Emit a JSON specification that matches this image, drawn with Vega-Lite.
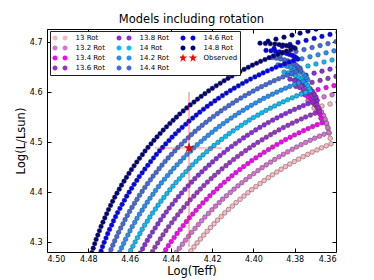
{"$schema":"https://vega.github.io/schema/vega-lite/v6.json","width":289,"height":223,"autosize":"none","padding":{"left":47,"top":29,"right":38,"bottom":28},"background":"white",
"title":{"text":"Models including rotation","font":"DejaVu Sans","fontSize":11.5,"fontWeight":"normal","color":"black","offset":3},
"config":{"view":{"stroke":"black","strokeWidth":1},"axis":{"grid":false,"domain":false,"labelFont":"DejaVu Sans","labelFontSize":8,"labelColor":"black","tickColor":"black","tickSize":-4,"titleFont":"DejaVu Sans","titleFontSize":11.5,"titleFontWeight":"normal","titleColor":"black"}},
"datasets":{"obs":[{"s":"Observed","x":4.4312,"y":4.488,"xlo":4.4477,"xhi":4.4152,"ylo":4.29,"yhi":4.60}],
"tracks":[
{"s":"13 Rot","x":4.3624,"y":4.4964},{"s":"13 Rot","x":4.3647,"y":4.4924},{"s":"13 Rot","x":4.3670,"y":4.4883},{"s":"13 Rot","x":4.3692,"y":4.4841},{"s":"13 Rot","x":4.3715,"y":4.4798},{"s":"13 Rot","x":4.3737,"y":4.4752},{"s":"13 Rot","x":4.3759,"y":4.4706},{"s":"13 Rot","x":4.3781,"y":4.4658},{"s":"13 Rot","x":4.3802,"y":4.4609},{"s":"13 Rot","x":4.3824,"y":4.4559},{"s":"13 Rot","x":4.3845,"y":4.4507},{"s":"13 Rot","x":4.3866,"y":4.4454},{"s":"13 Rot","x":4.3887,"y":4.4400},{"s":"13 Rot","x":4.3908,"y":4.4344},{"s":"13 Rot","x":4.3928,"y":4.4287},{"s":"13 Rot","x":4.3948,"y":4.4229},{"s":"13 Rot","x":4.3968,"y":4.4169},{"s":"13 Rot","x":4.3988,"y":4.4109},{"s":"13 Rot","x":4.4008,"y":4.4047},{"s":"13 Rot","x":4.4027,"y":4.3984},{"s":"13 Rot","x":4.4046,"y":4.3919},{"s":"13 Rot","x":4.4065,"y":4.3854},{"s":"13 Rot","x":4.4084,"y":4.3787},{"s":"13 Rot","x":4.4102,"y":4.3719},{"s":"13 Rot","x":4.4121,"y":4.3651},{"s":"13 Rot","x":4.4139,"y":4.3581},{"s":"13 Rot","x":4.4156,"y":4.3509},{"s":"13 Rot","x":4.4174,"y":4.3437},{"s":"13 Rot","x":4.4191,"y":4.3364},{"s":"13 Rot","x":4.4208,"y":4.3289},{"s":"13 Rot","x":4.4224,"y":4.3214},{"s":"13 Rot","x":4.4241,"y":4.3138},{"s":"13 Rot","x":4.4257,"y":4.3060},{"s":"13 Rot","x":4.4273,"y":4.2982},{"s":"13 Rot","x":4.4288,"y":4.2903},{"s":"13 Rot","x":4.4303,"y":4.2822},{"s":"13 Rot","x":4.4318,"y":4.2741},
{"s":"13 Rot","x":4.3628,"y":4.5074},{"s":"13 Rot","x":4.3633,"y":4.5176},{"s":"13 Rot","x":4.3638,"y":4.5269},{"s":"13 Rot","x":4.3645,"y":4.5353},{"s":"13 Rot","x":4.3653,"y":4.5429},{"s":"13 Rot","x":4.3662,"y":4.5496},{"s":"13 Rot","x":4.3671,"y":4.5555},{"s":"13 Rot","x":4.3682,"y":4.5605},{"s":"13 Rot","x":4.3694,"y":4.5647},{"s":"13 Rot","x":4.3706,"y":4.568},{"s":"13 Rot","x":4.3668,"y":4.572},{"s":"13 Rot","x":4.3629,"y":4.576},{"s":"13 Rot","x":4.3590,"y":4.580},
{"s":"13.2 Rot","x":4.3635,"y":4.5193},{"s":"13.2 Rot","x":4.3658,"y":4.5155},{"s":"13.2 Rot","x":4.3680,"y":4.5116},{"s":"13.2 Rot","x":4.3703,"y":4.5076},{"s":"13.2 Rot","x":4.3725,"y":4.5034},{"s":"13.2 Rot","x":4.3747,"y":4.4991},{"s":"13.2 Rot","x":4.3769,"y":4.4946},{"s":"13.2 Rot","x":4.3791,"y":4.4900},{"s":"13.2 Rot","x":4.3812,"y":4.4853},{"s":"13.2 Rot","x":4.3834,"y":4.4804},{"s":"13.2 Rot","x":4.3855,"y":4.4754},{"s":"13.2 Rot","x":4.3876,"y":4.4703},{"s":"13.2 Rot","x":4.3897,"y":4.4651},{"s":"13.2 Rot","x":4.3917,"y":4.4597},{"s":"13.2 Rot","x":4.3938,"y":4.4542},{"s":"13.2 Rot","x":4.3958,"y":4.4486},{"s":"13.2 Rot","x":4.3978,"y":4.4428},{"s":"13.2 Rot","x":4.3998,"y":4.4369},{"s":"13.2 Rot","x":4.4018,"y":4.4309},{"s":"13.2 Rot","x":4.4037,"y":4.4248},{"s":"13.2 Rot","x":4.4056,"y":4.4185},{"s":"13.2 Rot","x":4.4075,"y":4.4122},{"s":"13.2 Rot","x":4.4094,"y":4.4057},{"s":"13.2 Rot","x":4.4112,"y":4.3991},{"s":"13.2 Rot","x":4.4131,"y":4.3924},{"s":"13.2 Rot","x":4.4149,"y":4.3856},{"s":"13.2 Rot","x":4.4166,"y":4.3787},{"s":"13.2 Rot","x":4.4184,"y":4.3716},{"s":"13.2 Rot","x":4.4201,"y":4.3645},{"s":"13.2 Rot","x":4.4218,"y":4.3572},{"s":"13.2 Rot","x":4.4235,"y":4.3499},{"s":"13.2 Rot","x":4.4251,"y":4.3424},{"s":"13.2 Rot","x":4.4267,"y":4.3348},{"s":"13.2 Rot","x":4.4283,"y":4.3272},{"s":"13.2 Rot","x":4.4299,"y":4.3194},{"s":"13.2 Rot","x":4.4314,"y":4.3116},{"s":"13.2 Rot","x":4.4329,"y":4.3036},{"s":"13.2 Rot","x":4.4344,"y":4.2956},{"s":"13.2 Rot","x":4.4359,"y":4.2875},{"s":"13.2 Rot","x":4.4373,"y":4.2792},{"s":"13.2 Rot","x":4.4387,"y":4.2709},
{"s":"13.2 Rot","x":4.3640,"y":4.5289},{"s":"13.2 Rot","x":4.3646,"y":4.5379},{"s":"13.2 Rot","x":4.3653,"y":4.5461},{"s":"13.2 Rot","x":4.3661,"y":4.5536},{"s":"13.2 Rot","x":4.3670,"y":4.5603},{"s":"13.2 Rot","x":4.3681,"y":4.5662},{"s":"13.2 Rot","x":4.3693,"y":4.5714},{"s":"13.2 Rot","x":4.3706,"y":4.5758},{"s":"13.2 Rot","x":4.3720,"y":4.5795},{"s":"13.2 Rot","x":4.3736,"y":4.5824},{"s":"13.2 Rot","x":4.3697,"y":4.5864},{"s":"13.2 Rot","x":4.3658,"y":4.5904},{"s":"13.2 Rot","x":4.3619,"y":4.5944},{"s":"13.2 Rot","x":4.3580,"y":4.5984},
{"s":"13.4 Rot","x":4.3668,"y":4.5384},{"s":"13.4 Rot","x":4.3691,"y":4.5347},{"s":"13.4 Rot","x":4.3713,"y":4.5308},{"s":"13.4 Rot","x":4.3735,"y":4.5268},{"s":"13.4 Rot","x":4.3757,"y":4.5227},{"s":"13.4 Rot","x":4.3779,"y":4.5184},{"s":"13.4 Rot","x":4.3801,"y":4.5140},{"s":"13.4 Rot","x":4.3822,"y":4.5094},{"s":"13.4 Rot","x":4.3844,"y":4.5048},{"s":"13.4 Rot","x":4.3865,"y":4.5000},{"s":"13.4 Rot","x":4.3886,"y":4.4950},{"s":"13.4 Rot","x":4.3907,"y":4.4899},{"s":"13.4 Rot","x":4.3927,"y":4.4848},{"s":"13.4 Rot","x":4.3948,"y":4.4794},{"s":"13.4 Rot","x":4.3968,"y":4.4740},{"s":"13.4 Rot","x":4.3988,"y":4.4684},{"s":"13.4 Rot","x":4.4008,"y":4.4627},{"s":"13.4 Rot","x":4.4027,"y":4.4569},{"s":"13.4 Rot","x":4.4047,"y":4.4509},{"s":"13.4 Rot","x":4.4066,"y":4.4449},{"s":"13.4 Rot","x":4.4085,"y":4.4387},{"s":"13.4 Rot","x":4.4104,"y":4.4324},{"s":"13.4 Rot","x":4.4122,"y":4.4260},{"s":"13.4 Rot","x":4.4141,"y":4.4195},{"s":"13.4 Rot","x":4.4159,"y":4.4129},{"s":"13.4 Rot","x":4.4176,"y":4.4061},{"s":"13.4 Rot","x":4.4194,"y":4.3993},{"s":"13.4 Rot","x":4.4211,"y":4.3923},{"s":"13.4 Rot","x":4.4228,"y":4.3852},{"s":"13.4 Rot","x":4.4245,"y":4.3781},{"s":"13.4 Rot","x":4.4262,"y":4.3708},{"s":"13.4 Rot","x":4.4278,"y":4.3634},{"s":"13.4 Rot","x":4.4294,"y":4.3559},{"s":"13.4 Rot","x":4.4310,"y":4.3483},{"s":"13.4 Rot","x":4.4325,"y":4.3407},{"s":"13.4 Rot","x":4.4340,"y":4.3329},{"s":"13.4 Rot","x":4.4355,"y":4.3250},{"s":"13.4 Rot","x":4.4370,"y":4.3171},{"s":"13.4 Rot","x":4.4384,"y":4.3090},{"s":"13.4 Rot","x":4.4398,"y":4.3009},{"s":"13.4 Rot","x":4.4412,"y":4.2927},{"s":"13.4 Rot","x":4.4425,"y":4.2844},{"s":"13.4 Rot","x":4.4438,"y":4.2760},
{"s":"13.4 Rot","x":4.3673,"y":4.5474},{"s":"13.4 Rot","x":4.3678,"y":4.5557},{"s":"13.4 Rot","x":4.3685,"y":4.5633},{"s":"13.4 Rot","x":4.3693,"y":4.5702},{"s":"13.4 Rot","x":4.3702,"y":4.5764},{"s":"13.4 Rot","x":4.3712,"y":4.5818},{"s":"13.4 Rot","x":4.3723,"y":4.5867},{"s":"13.4 Rot","x":4.3736,"y":4.5907},{"s":"13.4 Rot","x":4.3750,"y":4.5941},{"s":"13.4 Rot","x":4.3765,"y":4.5968},{"s":"13.4 Rot","x":4.3726,"y":4.6008},{"s":"13.4 Rot","x":4.3687,"y":4.6048},{"s":"13.4 Rot","x":4.3648,"y":4.6088},{"s":"13.4 Rot","x":4.3610,"y":4.6128},
{"s":"13.6 Rot","x":4.3680,"y":4.5610},{"s":"13.6 Rot","x":4.3702,"y":4.5575},{"s":"13.6 Rot","x":4.3724,"y":4.5538},{"s":"13.6 Rot","x":4.3747,"y":4.5500},{"s":"13.6 Rot","x":4.3768,"y":4.5460},{"s":"13.6 Rot","x":4.3790,"y":4.5419},{"s":"13.6 Rot","x":4.3812,"y":4.5377},{"s":"13.6 Rot","x":4.3833,"y":4.5333},{"s":"13.6 Rot","x":4.3855,"y":4.5288},{"s":"13.6 Rot","x":4.3876,"y":4.5242},{"s":"13.6 Rot","x":4.3897,"y":4.5194},{"s":"13.6 Rot","x":4.3917,"y":4.5146},{"s":"13.6 Rot","x":4.3938,"y":4.5095},{"s":"13.6 Rot","x":4.3958,"y":4.5044},{"s":"13.6 Rot","x":4.3979,"y":4.4991},{"s":"13.6 Rot","x":4.3999,"y":4.4937},{"s":"13.6 Rot","x":4.4019,"y":4.4882},{"s":"13.6 Rot","x":4.4038,"y":4.4826},{"s":"13.6 Rot","x":4.4058,"y":4.4769},{"s":"13.6 Rot","x":4.4077,"y":4.4710},{"s":"13.6 Rot","x":4.4096,"y":4.4650},{"s":"13.6 Rot","x":4.4115,"y":4.4589},{"s":"13.6 Rot","x":4.4133,"y":4.4526},{"s":"13.6 Rot","x":4.4152,"y":4.4463},{"s":"13.6 Rot","x":4.4170,"y":4.4398},{"s":"13.6 Rot","x":4.4188,"y":4.4333},{"s":"13.6 Rot","x":4.4205,"y":4.4266},{"s":"13.6 Rot","x":4.4223,"y":4.4198},{"s":"13.6 Rot","x":4.4240,"y":4.4129},{"s":"13.6 Rot","x":4.4257,"y":4.4059},{"s":"13.6 Rot","x":4.4273,"y":4.3988},{"s":"13.6 Rot","x":4.4289,"y":4.3916},{"s":"13.6 Rot","x":4.4306,"y":4.3843},{"s":"13.6 Rot","x":4.4321,"y":4.3769},{"s":"13.6 Rot","x":4.4337,"y":4.3694},{"s":"13.6 Rot","x":4.4352,"y":4.3618},{"s":"13.6 Rot","x":4.4367,"y":4.3541},{"s":"13.6 Rot","x":4.4382,"y":4.3464},{"s":"13.6 Rot","x":4.4396,"y":4.3385},{"s":"13.6 Rot","x":4.4411,"y":4.3305},{"s":"13.6 Rot","x":4.4424,"y":4.3225},{"s":"13.6 Rot","x":4.4438,"y":4.3144},{"s":"13.6 Rot","x":4.4451,"y":4.3062},{"s":"13.6 Rot","x":4.4464,"y":4.2979},{"s":"13.6 Rot","x":4.4477,"y":4.2895},{"s":"13.6 Rot","x":4.4489,"y":4.2810},{"s":"13.6 Rot","x":4.4501,"y":4.2725},
{"s":"13.6 Rot","x":4.3686,"y":4.5687},{"s":"13.6 Rot","x":4.3692,"y":4.5759},{"s":"13.6 Rot","x":4.3700,"y":4.5824},{"s":"13.6 Rot","x":4.3709,"y":4.5883},{"s":"13.6 Rot","x":4.3720,"y":4.5936},{"s":"13.6 Rot","x":4.3732,"y":4.5984},{"s":"13.6 Rot","x":4.3745,"y":4.6024},{"s":"13.6 Rot","x":4.3760,"y":4.6060},{"s":"13.6 Rot","x":4.3776,"y":4.6089},{"s":"13.6 Rot","x":4.3794,"y":4.6112},{"s":"13.6 Rot","x":4.3755,"y":4.6152},{"s":"13.6 Rot","x":4.3716,"y":4.6192},{"s":"13.6 Rot","x":4.3677,"y":4.6232},{"s":"13.6 Rot","x":4.3639,"y":4.6272},{"s":"13.6 Rot","x":4.3600,"y":4.6312},
{"s":"13.8 Rot","x":4.3691,"y":4.5834},{"s":"13.8 Rot","x":4.3713,"y":4.5801},{"s":"13.8 Rot","x":4.3736,"y":4.5766},{"s":"13.8 Rot","x":4.3758,"y":4.5729},{"s":"13.8 Rot","x":4.3779,"y":4.5691},{"s":"13.8 Rot","x":4.3801,"y":4.5652},{"s":"13.8 Rot","x":4.3823,"y":4.5612},{"s":"13.8 Rot","x":4.3844,"y":4.5570},{"s":"13.8 Rot","x":4.3865,"y":4.5527},{"s":"13.8 Rot","x":4.3886,"y":4.5482},{"s":"13.8 Rot","x":4.3907,"y":4.5437},{"s":"13.8 Rot","x":4.3928,"y":4.5390},{"s":"13.8 Rot","x":4.3948,"y":4.5341},{"s":"13.8 Rot","x":4.3969,"y":4.5292},{"s":"13.8 Rot","x":4.3989,"y":4.5241},{"s":"13.8 Rot","x":4.4009,"y":4.5189},{"s":"13.8 Rot","x":4.4029,"y":4.5135},{"s":"13.8 Rot","x":4.4048,"y":4.5081},{"s":"13.8 Rot","x":4.4068,"y":4.5025},{"s":"13.8 Rot","x":4.4087,"y":4.4968},{"s":"13.8 Rot","x":4.4106,"y":4.4910},{"s":"13.8 Rot","x":4.4125,"y":4.4851},{"s":"13.8 Rot","x":4.4143,"y":4.4790},{"s":"13.8 Rot","x":4.4162,"y":4.4729},{"s":"13.8 Rot","x":4.4180,"y":4.4666},{"s":"13.8 Rot","x":4.4198,"y":4.4602},{"s":"13.8 Rot","x":4.4215,"y":4.4537},{"s":"13.8 Rot","x":4.4233,"y":4.4471},{"s":"13.8 Rot","x":4.4250,"y":4.4404},{"s":"13.8 Rot","x":4.4267,"y":4.4336},{"s":"13.8 Rot","x":4.4284,"y":4.4267},{"s":"13.8 Rot","x":4.4300,"y":4.4197},{"s":"13.8 Rot","x":4.4316,"y":4.4125},{"s":"13.8 Rot","x":4.4332,"y":4.4053},{"s":"13.8 Rot","x":4.4348,"y":4.3980},{"s":"13.8 Rot","x":4.4363,"y":4.3906},{"s":"13.8 Rot","x":4.4378,"y":4.3831},{"s":"13.8 Rot","x":4.4393,"y":4.3755},{"s":"13.8 Rot","x":4.4408,"y":4.3678},{"s":"13.8 Rot","x":4.4422,"y":4.3600},{"s":"13.8 Rot","x":4.4436,"y":4.3521},{"s":"13.8 Rot","x":4.4450,"y":4.3442},{"s":"13.8 Rot","x":4.4463,"y":4.3361},{"s":"13.8 Rot","x":4.4476,"y":4.3280},{"s":"13.8 Rot","x":4.4489,"y":4.3198},{"s":"13.8 Rot","x":4.4502,"y":4.3115},{"s":"13.8 Rot","x":4.4514,"y":4.3032},{"s":"13.8 Rot","x":4.4526,"y":4.2947},{"s":"13.8 Rot","x":4.4537,"y":4.2862},{"s":"13.8 Rot","x":4.4549,"y":4.2776},{"s":"13.8 Rot","x":4.4560,"y":4.2690},
{"s":"13.8 Rot","x":4.3697,"y":4.5899},{"s":"13.8 Rot","x":4.3705,"y":4.5959},{"s":"13.8 Rot","x":4.3714,"y":4.6014},{"s":"13.8 Rot","x":4.3725,"y":4.6064},{"s":"13.8 Rot","x":4.3737,"y":4.6108},{"s":"13.8 Rot","x":4.3751,"y":4.6148},{"s":"13.8 Rot","x":4.3767,"y":4.6182},{"s":"13.8 Rot","x":4.3784,"y":4.6212},{"s":"13.8 Rot","x":4.3802,"y":4.6237},{"s":"13.8 Rot","x":4.3823,"y":4.6256},{"s":"13.8 Rot","x":4.3784,"y":4.6296},{"s":"13.8 Rot","x":4.3745,"y":4.6336},{"s":"13.8 Rot","x":4.3706,"y":4.6376},{"s":"13.8 Rot","x":4.3668,"y":4.6416},{"s":"13.8 Rot","x":4.3629,"y":4.6456},{"s":"13.8 Rot","x":4.3590,"y":4.6496},
{"s":"14 Rot","x":4.3725,"y":4.6025},{"s":"14 Rot","x":4.3747,"y":4.5991},{"s":"14 Rot","x":4.3769,"y":4.5957},{"s":"14 Rot","x":4.3791,"y":4.5921},{"s":"14 Rot","x":4.3812,"y":4.5883},{"s":"14 Rot","x":4.3834,"y":4.5845},{"s":"14 Rot","x":4.3855,"y":4.5804},{"s":"14 Rot","x":4.3876,"y":4.5763},{"s":"14 Rot","x":4.3897,"y":4.5720},{"s":"14 Rot","x":4.3918,"y":4.5676},{"s":"14 Rot","x":4.3939,"y":4.5631},{"s":"14 Rot","x":4.3959,"y":4.5585},{"s":"14 Rot","x":4.3979,"y":4.5537},{"s":"14 Rot","x":4.4000,"y":4.5488},{"s":"14 Rot","x":4.4020,"y":4.5438},{"s":"14 Rot","x":4.4039,"y":4.5386},{"s":"14 Rot","x":4.4059,"y":4.5333},{"s":"14 Rot","x":4.4078,"y":4.5280},{"s":"14 Rot","x":4.4098,"y":4.5224},{"s":"14 Rot","x":4.4117,"y":4.5168},{"s":"14 Rot","x":4.4135,"y":4.5111},{"s":"14 Rot","x":4.4154,"y":4.5052},{"s":"14 Rot","x":4.4172,"y":4.4992},{"s":"14 Rot","x":4.4191,"y":4.4931},{"s":"14 Rot","x":4.4208,"y":4.4869},{"s":"14 Rot","x":4.4226,"y":4.4806},{"s":"14 Rot","x":4.4244,"y":4.4742},{"s":"14 Rot","x":4.4261,"y":4.4677},{"s":"14 Rot","x":4.4278,"y":4.4610},{"s":"14 Rot","x":4.4295,"y":4.4543},{"s":"14 Rot","x":4.4311,"y":4.4474},{"s":"14 Rot","x":4.4327,"y":4.4405},{"s":"14 Rot","x":4.4343,"y":4.4335},{"s":"14 Rot","x":4.4359,"y":4.4263},{"s":"14 Rot","x":4.4375,"y":4.4191},{"s":"14 Rot","x":4.4390,"y":4.4117},{"s":"14 Rot","x":4.4405,"y":4.4043},{"s":"14 Rot","x":4.4419,"y":4.3968},{"s":"14 Rot","x":4.4434,"y":4.3892},{"s":"14 Rot","x":4.4448,"y":4.3815},{"s":"14 Rot","x":4.4462,"y":4.3737},{"s":"14 Rot","x":4.4475,"y":4.3658},{"s":"14 Rot","x":4.4489,"y":4.3579},{"s":"14 Rot","x":4.4502,"y":4.3499},{"s":"14 Rot","x":4.4514,"y":4.3417},{"s":"14 Rot","x":4.4527,"y":4.3336},{"s":"14 Rot","x":4.4539,"y":4.3253},{"s":"14 Rot","x":4.4550,"y":4.3169},{"s":"14 Rot","x":4.4562,"y":4.3085},{"s":"14 Rot","x":4.4573,"y":4.3000},{"s":"14 Rot","x":4.4584,"y":4.2915},{"s":"14 Rot","x":4.4595,"y":4.2829},{"s":"14 Rot","x":4.4605,"y":4.2742},
{"s":"14 Rot","x":4.3731,"y":4.6082},{"s":"14 Rot","x":4.3738,"y":4.6135},{"s":"14 Rot","x":4.3747,"y":4.6184},{"s":"14 Rot","x":4.3758,"y":4.6229},{"s":"14 Rot","x":4.3770,"y":4.6268},{"s":"14 Rot","x":4.3783,"y":4.6304},{"s":"14 Rot","x":4.3798,"y":4.6335},{"s":"14 Rot","x":4.3814,"y":4.6361},{"s":"14 Rot","x":4.3832,"y":4.6383},{"s":"14 Rot","x":4.3852,"y":4.640},{"s":"14 Rot","x":4.3813,"y":4.644},{"s":"14 Rot","x":4.3774,"y":4.648},{"s":"14 Rot","x":4.3736,"y":4.652},{"s":"14 Rot","x":4.3697,"y":4.656},{"s":"14 Rot","x":4.3658,"y":4.660},{"s":"14 Rot","x":4.3619,"y":4.664},
{"s":"14.2 Rot","x":4.3737,"y":4.6247},{"s":"14.2 Rot","x":4.3759,"y":4.6215},{"s":"14.2 Rot","x":4.3781,"y":4.6182},{"s":"14.2 Rot","x":4.3802,"y":4.6148},{"s":"14.2 Rot","x":4.3824,"y":4.6112},{"s":"14.2 Rot","x":4.3845,"y":4.6075},{"s":"14.2 Rot","x":4.3866,"y":4.6037},{"s":"14.2 Rot","x":4.3887,"y":4.5997},{"s":"14.2 Rot","x":4.3908,"y":4.5956},{"s":"14.2 Rot","x":4.3929,"y":4.5914},{"s":"14.2 Rot","x":4.3950,"y":4.5871},{"s":"14.2 Rot","x":4.3970,"y":4.5826},{"s":"14.2 Rot","x":4.3990,"y":4.5780},{"s":"14.2 Rot","x":4.4010,"y":4.5733},{"s":"14.2 Rot","x":4.4030,"y":4.5684},{"s":"14.2 Rot","x":4.4050,"y":4.5634},{"s":"14.2 Rot","x":4.4070,"y":4.5584},{"s":"14.2 Rot","x":4.4089,"y":4.5531},{"s":"14.2 Rot","x":4.4108,"y":4.5478},{"s":"14.2 Rot","x":4.4127,"y":4.5424},{"s":"14.2 Rot","x":4.4146,"y":4.5368},{"s":"14.2 Rot","x":4.4165,"y":4.5311},{"s":"14.2 Rot","x":4.4183,"y":4.5253},{"s":"14.2 Rot","x":4.4201,"y":4.5194},{"s":"14.2 Rot","x":4.4219,"y":4.5134},{"s":"14.2 Rot","x":4.4237,"y":4.5072},{"s":"14.2 Rot","x":4.4254,"y":4.5010},{"s":"14.2 Rot","x":4.4272,"y":4.4946},{"s":"14.2 Rot","x":4.4289,"y":4.4882},{"s":"14.2 Rot","x":4.4305,"y":4.4816},{"s":"14.2 Rot","x":4.4322,"y":4.4750},{"s":"14.2 Rot","x":4.4338,"y":4.4682},{"s":"14.2 Rot","x":4.4354,"y":4.4613},{"s":"14.2 Rot","x":4.4370,"y":4.4544},{"s":"14.2 Rot","x":4.4386,"y":4.4473},{"s":"14.2 Rot","x":4.4401,"y":4.4401},{"s":"14.2 Rot","x":4.4416,"y":4.4329},{"s":"14.2 Rot","x":4.4431,"y":4.4255},{"s":"14.2 Rot","x":4.4446,"y":4.4181},{"s":"14.2 Rot","x":4.4460,"y":4.4106},{"s":"14.2 Rot","x":4.4474,"y":4.4030},{"s":"14.2 Rot","x":4.4487,"y":4.3953},{"s":"14.2 Rot","x":4.4501,"y":4.3875},{"s":"14.2 Rot","x":4.4514,"y":4.3796},{"s":"14.2 Rot","x":4.4527,"y":4.3717},{"s":"14.2 Rot","x":4.4539,"y":4.3637},{"s":"14.2 Rot","x":4.4552,"y":4.3556},{"s":"14.2 Rot","x":4.4564,"y":4.3474},{"s":"14.2 Rot","x":4.4575,"y":4.3392},{"s":"14.2 Rot","x":4.4587,"y":4.3308},{"s":"14.2 Rot","x":4.4598,"y":4.3224},{"s":"14.2 Rot","x":4.4608,"y":4.3140},{"s":"14.2 Rot","x":4.4619,"y":4.3055},{"s":"14.2 Rot","x":4.4629,"y":4.2969},{"s":"14.2 Rot","x":4.4639,"y":4.2882},{"s":"14.2 Rot","x":4.4648,"y":4.2795},{"s":"14.2 Rot","x":4.4657,"y":4.2708},
{"s":"14.2 Rot","x":4.3744,"y":4.6292},{"s":"14.2 Rot","x":4.3752,"y":4.6334},{"s":"14.2 Rot","x":4.3762,"y":4.6373},{"s":"14.2 Rot","x":4.3774,"y":4.6408},{"s":"14.2 Rot","x":4.3788,"y":4.6440},{"s":"14.2 Rot","x":4.3803,"y":4.6468},{"s":"14.2 Rot","x":4.3820,"y":4.6492},{"s":"14.2 Rot","x":4.3838,"y":4.6513},{"s":"14.2 Rot","x":4.3859,"y":4.6530},{"s":"14.2 Rot","x":4.3881,"y":4.6544},{"s":"14.2 Rot","x":4.3842,"y":4.6584},{"s":"14.2 Rot","x":4.3803,"y":4.6624},{"s":"14.2 Rot","x":4.3765,"y":4.6664},{"s":"14.2 Rot","x":4.3726,"y":4.6704},{"s":"14.2 Rot","x":4.3687,"y":4.6744},{"s":"14.2 Rot","x":4.3648,"y":4.6784},{"s":"14.2 Rot","x":4.3610,"y":4.6824},
{"s":"14.4 Rot","x":4.3771,"y":4.6434},{"s":"14.4 Rot","x":4.3793,"y":4.6403},{"s":"14.4 Rot","x":4.3814,"y":4.6371},{"s":"14.4 Rot","x":4.3836,"y":4.6337},{"s":"14.4 Rot","x":4.3857,"y":4.6301},{"s":"14.4 Rot","x":4.3878,"y":4.6265},{"s":"14.4 Rot","x":4.3899,"y":4.6227},{"s":"14.4 Rot","x":4.3920,"y":4.6188},{"s":"14.4 Rot","x":4.3940,"y":4.6147},{"s":"14.4 Rot","x":4.3961,"y":4.6106},{"s":"14.4 Rot","x":4.3981,"y":4.6063},{"s":"14.4 Rot","x":4.4001,"y":4.6019},{"s":"14.4 Rot","x":4.4021,"y":4.5973},{"s":"14.4 Rot","x":4.4041,"y":4.5926},{"s":"14.4 Rot","x":4.4061,"y":4.5878},{"s":"14.4 Rot","x":4.4081,"y":4.5829},{"s":"14.4 Rot","x":4.4100,"y":4.5779},{"s":"14.4 Rot","x":4.4119,"y":4.5727},{"s":"14.4 Rot","x":4.4138,"y":4.5675},{"s":"14.4 Rot","x":4.4157,"y":4.5621},{"s":"14.4 Rot","x":4.4175,"y":4.5566},{"s":"14.4 Rot","x":4.4194,"y":4.5510},{"s":"14.4 Rot","x":4.4212,"y":4.5452},{"s":"14.4 Rot","x":4.4230,"y":4.5394},{"s":"14.4 Rot","x":4.4248,"y":4.5334},{"s":"14.4 Rot","x":4.4265,"y":4.5274},{"s":"14.4 Rot","x":4.4283,"y":4.5212},{"s":"14.4 Rot","x":4.4300,"y":4.5149},{"s":"14.4 Rot","x":4.4316,"y":4.5085},{"s":"14.4 Rot","x":4.4333,"y":4.5020},{"s":"14.4 Rot","x":4.4349,"y":4.4955},{"s":"14.4 Rot","x":4.4366,"y":4.4888},{"s":"14.4 Rot","x":4.4381,"y":4.4820},{"s":"14.4 Rot","x":4.4397,"y":4.4751},{"s":"14.4 Rot","x":4.4413,"y":4.4681},{"s":"14.4 Rot","x":4.4428,"y":4.4610},{"s":"14.4 Rot","x":4.4443,"y":4.4538},{"s":"14.4 Rot","x":4.4457,"y":4.4466},{"s":"14.4 Rot","x":4.4471,"y":4.4392},{"s":"14.4 Rot","x":4.4486,"y":4.4318},{"s":"14.4 Rot","x":4.4499,"y":4.4243},{"s":"14.4 Rot","x":4.4513,"y":4.4167},{"s":"14.4 Rot","x":4.4526,"y":4.4090},{"s":"14.4 Rot","x":4.4539,"y":4.4012},{"s":"14.4 Rot","x":4.4552,"y":4.3934},{"s":"14.4 Rot","x":4.4564,"y":4.3854},{"s":"14.4 Rot","x":4.4576,"y":4.3774},{"s":"14.4 Rot","x":4.4588,"y":4.3693},{"s":"14.4 Rot","x":4.4600,"y":4.3612},{"s":"14.4 Rot","x":4.4611,"y":4.3529},{"s":"14.4 Rot","x":4.4622,"y":4.3447},{"s":"14.4 Rot","x":4.4632,"y":4.3363},{"s":"14.4 Rot","x":4.4643,"y":4.3279},{"s":"14.4 Rot","x":4.4653,"y":4.3194},{"s":"14.4 Rot","x":4.4662,"y":4.3108},{"s":"14.4 Rot","x":4.4672,"y":4.3022},{"s":"14.4 Rot","x":4.4681,"y":4.2936},{"s":"14.4 Rot","x":4.4690,"y":4.2849},{"s":"14.4 Rot","x":4.4698,"y":4.2761},
{"s":"14.4 Rot","x":4.3778,"y":4.6473},{"s":"14.4 Rot","x":4.3786,"y":4.6509},{"s":"14.4 Rot","x":4.3795,"y":4.6542},{"s":"14.4 Rot","x":4.3807,"y":4.6572},{"s":"14.4 Rot","x":4.3820,"y":4.6599},{"s":"14.4 Rot","x":4.3834,"y":4.6623},{"s":"14.4 Rot","x":4.3851,"y":4.6644},{"s":"14.4 Rot","x":4.3869,"y":4.6662},{"s":"14.4 Rot","x":4.3889,"y":4.6676},{"s":"14.4 Rot","x":4.3910,"y":4.6688},{"s":"14.4 Rot","x":4.3871,"y":4.6728},{"s":"14.4 Rot","x":4.3832,"y":4.6768},{"s":"14.4 Rot","x":4.3794,"y":4.6808},{"s":"14.4 Rot","x":4.3755,"y":4.6848},{"s":"14.4 Rot","x":4.3716,"y":4.6888},{"s":"14.4 Rot","x":4.3677,"y":4.6928},{"s":"14.4 Rot","x":4.3639,"y":4.6968},{"s":"14.4 Rot","x":4.3600,"y":4.7008},
{"s":"14.6 Rot","x":4.3785,"y":4.6656},{"s":"14.6 Rot","x":4.3806,"y":4.6626},{"s":"14.6 Rot","x":4.3827,"y":4.6595},{"s":"14.6 Rot","x":4.3849,"y":4.6563},{"s":"14.6 Rot","x":4.3870,"y":4.6530},{"s":"14.6 Rot","x":4.3891,"y":4.6495},{"s":"14.6 Rot","x":4.3911,"y":4.6459},{"s":"14.6 Rot","x":4.3932,"y":4.6421},{"s":"14.6 Rot","x":4.3953,"y":4.6382},{"s":"14.6 Rot","x":4.3973,"y":4.6342},{"s":"14.6 Rot","x":4.3993,"y":4.6301},{"s":"14.6 Rot","x":4.4014,"y":4.6259},{"s":"14.6 Rot","x":4.4034,"y":4.6215},{"s":"14.6 Rot","x":4.4053,"y":4.6170},{"s":"14.6 Rot","x":4.4073,"y":4.6124},{"s":"14.6 Rot","x":4.4093,"y":4.6076},{"s":"14.6 Rot","x":4.4112,"y":4.6028},{"s":"14.6 Rot","x":4.4131,"y":4.5978},{"s":"14.6 Rot","x":4.4150,"y":4.5927},{"s":"14.6 Rot","x":4.4169,"y":4.5875},{"s":"14.6 Rot","x":4.4187,"y":4.5822},{"s":"14.6 Rot","x":4.4206,"y":4.5767},{"s":"14.6 Rot","x":4.4224,"y":4.5712},{"s":"14.6 Rot","x":4.4242,"y":4.5655},{"s":"14.6 Rot","x":4.4260,"y":4.5597},{"s":"14.6 Rot","x":4.4277,"y":4.5538},{"s":"14.6 Rot","x":4.4294,"y":4.5478},{"s":"14.6 Rot","x":4.4312,"y":4.5417},{"s":"14.6 Rot","x":4.4328,"y":4.5355},{"s":"14.6 Rot","x":4.4345,"y":4.5292},{"s":"14.6 Rot","x":4.4362,"y":4.5228},{"s":"14.6 Rot","x":4.4378,"y":4.5163},{"s":"14.6 Rot","x":4.4394,"y":4.5097},{"s":"14.6 Rot","x":4.4409,"y":4.5029},{"s":"14.6 Rot","x":4.4425,"y":4.4961},{"s":"14.6 Rot","x":4.4440,"y":4.4892},{"s":"14.6 Rot","x":4.4455,"y":4.4822},{"s":"14.6 Rot","x":4.4470,"y":4.4751},{"s":"14.6 Rot","x":4.4484,"y":4.4680},{"s":"14.6 Rot","x":4.4498,"y":4.4607},{"s":"14.6 Rot","x":4.4512,"y":4.4533},{"s":"14.6 Rot","x":4.4526,"y":4.4459},{"s":"14.6 Rot","x":4.4539,"y":4.4384},{"s":"14.6 Rot","x":4.4553,"y":4.4308},{"s":"14.6 Rot","x":4.4565,"y":4.4231},{"s":"14.6 Rot","x":4.4578,"y":4.4153},{"s":"14.6 Rot","x":4.4590,"y":4.4075},{"s":"14.6 Rot","x":4.4602,"y":4.3996},{"s":"14.6 Rot","x":4.4614,"y":4.3916},{"s":"14.6 Rot","x":4.4625,"y":4.3835},{"s":"14.6 Rot","x":4.4636,"y":4.3754},{"s":"14.6 Rot","x":4.4647,"y":4.3672},{"s":"14.6 Rot","x":4.4658,"y":4.3589},{"s":"14.6 Rot","x":4.4668,"y":4.3506},{"s":"14.6 Rot","x":4.4678,"y":4.3422},{"s":"14.6 Rot","x":4.4687,"y":4.3337},{"s":"14.6 Rot","x":4.4697,"y":4.3252},{"s":"14.6 Rot","x":4.4706,"y":4.3166},{"s":"14.6 Rot","x":4.4714,"y":4.3080},{"s":"14.6 Rot","x":4.4723,"y":4.2993},{"s":"14.6 Rot","x":4.4731,"y":4.2906},{"s":"14.6 Rot","x":4.4738,"y":4.2818},{"s":"14.6 Rot","x":4.4746,"y":4.2730},
{"s":"14.6 Rot","x":4.3792,"y":4.6683},{"s":"14.6 Rot","x":4.3801,"y":4.6708},{"s":"14.6 Rot","x":4.3812,"y":4.6731},{"s":"14.6 Rot","x":4.3825,"y":4.6752},{"s":"14.6 Rot","x":4.3839,"y":4.6770},{"s":"14.6 Rot","x":4.3855,"y":4.6787},{"s":"14.6 Rot","x":4.3874,"y":4.6801},{"s":"14.6 Rot","x":4.3893,"y":4.6814},{"s":"14.6 Rot","x":4.3915,"y":4.6824},{"s":"14.6 Rot","x":4.3939,"y":4.6832},{"s":"14.6 Rot","x":4.3900,"y":4.6872},{"s":"14.6 Rot","x":4.3861,"y":4.6912},{"s":"14.6 Rot","x":4.3823,"y":4.6952},{"s":"14.6 Rot","x":4.3784,"y":4.6992},{"s":"14.6 Rot","x":4.3745,"y":4.7032},{"s":"14.6 Rot","x":4.3706,"y":4.7072},{"s":"14.6 Rot","x":4.3668,"y":4.7112},{"s":"14.6 Rot","x":4.3629,"y":4.7152},{"s":"14.6 Rot","x":4.3590,"y":4.7192},
{"s":"14.8 Rot","x":4.3798,"y":4.6873},{"s":"14.8 Rot","x":4.3819,"y":4.6845},{"s":"14.8 Rot","x":4.3840,"y":4.6816},{"s":"14.8 Rot","x":4.3861,"y":4.6786},{"s":"14.8 Rot","x":4.3882,"y":4.6754},{"s":"14.8 Rot","x":4.3903,"y":4.6721},{"s":"14.8 Rot","x":4.3924,"y":4.6686},{"s":"14.8 Rot","x":4.3944,"y":4.6650},{"s":"14.8 Rot","x":4.3965,"y":4.6613},{"s":"14.8 Rot","x":4.3985,"y":4.6575},{"s":"14.8 Rot","x":4.4005,"y":4.6536},{"s":"14.8 Rot","x":4.4025,"y":4.6495},{"s":"14.8 Rot","x":4.4045,"y":4.6453},{"s":"14.8 Rot","x":4.4065,"y":4.6410},{"s":"14.8 Rot","x":4.4085,"y":4.6365},{"s":"14.8 Rot","x":4.4104,"y":4.6320},{"s":"14.8 Rot","x":4.4123,"y":4.6273},{"s":"14.8 Rot","x":4.4142,"y":4.6225},{"s":"14.8 Rot","x":4.4161,"y":4.6175},{"s":"14.8 Rot","x":4.4180,"y":4.6125},{"s":"14.8 Rot","x":4.4199,"y":4.6074},{"s":"14.8 Rot","x":4.4217,"y":4.6021},{"s":"14.8 Rot","x":4.4235,"y":4.5967},{"s":"14.8 Rot","x":4.4253,"y":4.5912},{"s":"14.8 Rot","x":4.4271,"y":4.5856},{"s":"14.8 Rot","x":4.4288,"y":4.5799},{"s":"14.8 Rot","x":4.4306,"y":4.5741},{"s":"14.8 Rot","x":4.4323,"y":4.5681},{"s":"14.8 Rot","x":4.4340,"y":4.5621},{"s":"14.8 Rot","x":4.4357,"y":4.5560},{"s":"14.8 Rot","x":4.4373,"y":4.5497},{"s":"14.8 Rot","x":4.4389,"y":4.5434},{"s":"14.8 Rot","x":4.4405,"y":4.5370},{"s":"14.8 Rot","x":4.4421,"y":4.5304},{"s":"14.8 Rot","x":4.4437,"y":4.5238},{"s":"14.8 Rot","x":4.4452,"y":4.5170},{"s":"14.8 Rot","x":4.4467,"y":4.5102},{"s":"14.8 Rot","x":4.4482,"y":4.5033},{"s":"14.8 Rot","x":4.4496,"y":4.4963},{"s":"14.8 Rot","x":4.4511,"y":4.4892},{"s":"14.8 Rot","x":4.4525,"y":4.4820},{"s":"14.8 Rot","x":4.4538,"y":4.4747},{"s":"14.8 Rot","x":4.4552,"y":4.4674},{"s":"14.8 Rot","x":4.4565,"y":4.4600},{"s":"14.8 Rot","x":4.4578,"y":4.4524},{"s":"14.8 Rot","x":4.4591,"y":4.4448},{"s":"14.8 Rot","x":4.4603,"y":4.4372},{"s":"14.8 Rot","x":4.4615,"y":4.4294},{"s":"14.8 Rot","x":4.4627,"y":4.4216},{"s":"14.8 Rot","x":4.4639,"y":4.4137},{"s":"14.8 Rot","x":4.4650,"y":4.4057},{"s":"14.8 Rot","x":4.4661,"y":4.3977},{"s":"14.8 Rot","x":4.4672,"y":4.3896},{"s":"14.8 Rot","x":4.4682,"y":4.3814},{"s":"14.8 Rot","x":4.4692,"y":4.3732},{"s":"14.8 Rot","x":4.4702,"y":4.3649},{"s":"14.8 Rot","x":4.4711,"y":4.3565},{"s":"14.8 Rot","x":4.4720,"y":4.3481},{"s":"14.8 Rot","x":4.4729,"y":4.3396},{"s":"14.8 Rot","x":4.4738,"y":4.3311},{"s":"14.8 Rot","x":4.4746,"y":4.3225},{"s":"14.8 Rot","x":4.4754,"y":4.3139},{"s":"14.8 Rot","x":4.4762,"y":4.3052},{"s":"14.8 Rot","x":4.4769,"y":4.2965},{"s":"14.8 Rot","x":4.4776,"y":4.2877},{"s":"14.8 Rot","x":4.4783,"y":4.2789},{"s":"14.8 Rot","x":4.4789,"y":4.2701},
{"s":"14.8 Rot","x":4.3806,"y":4.6888},{"s":"14.8 Rot","x":4.3816,"y":4.6903},{"s":"14.8 Rot","x":4.3828,"y":4.6916},{"s":"14.8 Rot","x":4.3842,"y":4.6929},{"s":"14.8 Rot","x":4.3858,"y":4.6940},{"s":"14.8 Rot","x":4.3876,"y":4.6949},{"s":"14.8 Rot","x":4.3896,"y":4.6958},{"s":"14.8 Rot","x":4.3918,"y":4.6965},{"s":"14.8 Rot","x":4.3942,"y":4.6971},{"s":"14.8 Rot","x":4.3968,"y":4.6976},{"s":"14.8 Rot","x":4.3929,"y":4.7016},{"s":"14.8 Rot","x":4.3891,"y":4.7056},{"s":"14.8 Rot","x":4.3852,"y":4.7096},{"s":"14.8 Rot","x":4.3813,"y":4.7136},{"s":"14.8 Rot","x":4.3774,"y":4.7176},{"s":"14.8 Rot","x":4.3736,"y":4.7216},{"s":"14.8 Rot","x":4.3697,"y":4.7256},{"s":"14.8 Rot","x":4.3658,"y":4.7296}
]},
"layer":[
{"data":{"name":"tracks"},"mark":{"type":"point","filled":true,"size":22,"stroke":"#333","strokeWidth":0.4,"opacity":1,"clip":true},
"encoding":{
"x":{"field":"x","type":"quantitative","scale":{"domain":[4.36,4.5],"reverse":true,"nice":false,"zero":false},"axis":{"values":[4.36,4.38,4.40,4.42,4.44,4.46,4.48,4.50],"format":".2f","title":"Log(Teff)","labelPadding":7,"titlePadding":2}},
"y":{"field":"y","type":"quantitative","scale":{"domain":[4.28,4.726],"nice":false,"zero":false},"axis":{"values":[4.3,4.4,4.5,4.6,4.7],"format":".1f","title":"Log(L/Lsun)","labelPadding":9,"titlePadding":3}},
"color":{"field":"s","type":"nominal","scale":{"domain":["13 Rot","13.2 Rot","13.4 Rot","13.6 Rot","13.8 Rot","14 Rot","14.2 Rot","14.4 Rot","14.6 Rot","14.8 Rot","Observed"],"range":["#ffb6c1","#da70d6","#ff00ff","#9932cc","#8a2be2","#00bfff","#1e90ff","#4169e1","#0000ff","#000080","#ff0000"]},
"legend":{"orient":"none","legendX":3,"legendY":2,"columns":3,"title":null,"labelFont":"DejaVu Sans","labelFontSize":7,"labelColor":"black","symbolSize":100,"symbolStrokeWidth":0.4,"symbolStrokeColor":"#333","symbolOpacity":1,"symbolOffset":2.5,"labelOffset":10,"rowPadding":0,"columnPadding":11,"padding":2,"clipHeight":10,"strokeColor":"#222","fillColor":"white"}}
}},
{"data":{"name":"obs"},"transform":[{"filter":"datum.s == 'none'"}],"mark":{"type":"point","filled":true,"opacity":1,"stroke":"#333","strokeWidth":0.4},
"encoding":{"x":{"field":"x","type":"quantitative","scale":{"domain":[4.36,4.5],"reverse":true,"nice":false,"zero":false},"axis":null},
"y":{"field":"y","type":"quantitative","scale":{"domain":[4.28,4.726],"nice":false,"zero":false},"axis":null},
"color":{"field":"s","type":"nominal","scale":{"domain":["13 Rot","13.2 Rot","13.4 Rot","13.6 Rot","13.8 Rot","14 Rot","14.2 Rot","14.4 Rot","14.6 Rot","14.8 Rot","Observed"],"range":["#ffb6c1","#da70d6","#ff00ff","#9932cc","#8a2be2","#00bfff","#1e90ff","#4169e1","#0000ff","#000080","#ff0000"]},
"legend":{"orient":"none","legendX":3,"legendY":2,"columns":3,"title":null,"labelFont":"DejaVu Sans","labelFontSize":7,"labelColor":"black","symbolSize":100,"symbolStrokeWidth":0.4,"symbolStrokeColor":"#333","symbolOpacity":1,"symbolOffset":2.5,"labelOffset":10,"rowPadding":0,"columnPadding":11,"padding":2,"clipHeight":10,"strokeColor":"#222","fillColor":"white"}},
"shape":{"field":"s","type":"nominal","scale":{"domain":["13 Rot","13.2 Rot","13.4 Rot","13.6 Rot","13.8 Rot","14 Rot","14.2 Rot","14.4 Rot","14.6 Rot","14.8 Rot","Observed"],"range":["M-1.5,0a0.5,0.5 0 1,0 1,0a0.5,0.5 0 1,0 -1,0ZM0.5,0a0.5,0.5 0 1,0 1,0a0.5,0.5 0 1,0 -1,0Z","M-1.5,0a0.5,0.5 0 1,0 1,0a0.5,0.5 0 1,0 -1,0ZM0.5,0a0.5,0.5 0 1,0 1,0a0.5,0.5 0 1,0 -1,0Z","M-1.5,0a0.5,0.5 0 1,0 1,0a0.5,0.5 0 1,0 -1,0ZM0.5,0a0.5,0.5 0 1,0 1,0a0.5,0.5 0 1,0 -1,0Z","M-1.5,0a0.5,0.5 0 1,0 1,0a0.5,0.5 0 1,0 -1,0ZM0.5,0a0.5,0.5 0 1,0 1,0a0.5,0.5 0 1,0 -1,0Z","M-1.5,0a0.5,0.5 0 1,0 1,0a0.5,0.5 0 1,0 -1,0ZM0.5,0a0.5,0.5 0 1,0 1,0a0.5,0.5 0 1,0 -1,0Z","M-1.5,0a0.5,0.5 0 1,0 1,0a0.5,0.5 0 1,0 -1,0ZM0.5,0a0.5,0.5 0 1,0 1,0a0.5,0.5 0 1,0 -1,0Z","M-1.5,0a0.5,0.5 0 1,0 1,0a0.5,0.5 0 1,0 -1,0ZM0.5,0a0.5,0.5 0 1,0 1,0a0.5,0.5 0 1,0 -1,0Z","M-1.5,0a0.5,0.5 0 1,0 1,0a0.5,0.5 0 1,0 -1,0ZM0.5,0a0.5,0.5 0 1,0 1,0a0.5,0.5 0 1,0 -1,0Z","M-1.5,0a0.5,0.5 0 1,0 1,0a0.5,0.5 0 1,0 -1,0ZM0.5,0a0.5,0.5 0 1,0 1,0a0.5,0.5 0 1,0 -1,0Z","M-1.5,0a0.5,0.5 0 1,0 1,0a0.5,0.5 0 1,0 -1,0ZM0.5,0a0.5,0.5 0 1,0 1,0a0.5,0.5 0 1,0 -1,0Z","M-1,-0.9L-0.798,-0.278L-0.144,-0.278L-0.673,0.106L-0.471,0.728L-1,0.344L-1.529,0.728L-1.327,0.106L-1.856,-0.278L-1.202,-0.278ZM1,-0.9L1.202,-0.278L1.856,-0.278L1.327,0.106L1.529,0.728L1,0.344L0.471,0.728L0.673,0.106L0.144,-0.278L0.798,-0.278Z"]},
"legend":{"orient":"none","legendX":3,"legendY":2,"columns":3,"title":null,"labelFont":"DejaVu Sans","labelFontSize":7,"labelColor":"black","symbolSize":100,"symbolStrokeWidth":0.4,"symbolStrokeColor":"#333","symbolOpacity":1,"symbolOffset":2.5,"labelOffset":10,"rowPadding":0,"columnPadding":11,"padding":2,"clipHeight":10,"strokeColor":"#222","fillColor":"white"}}}},
{"data":{"name":"obs"},"mark":{"type":"rule","color":"#ff0000","opacity":0.45,"strokeWidth":1.2},
"encoding":{"x":{"field":"xlo","type":"quantitative","scale":{"domain":[4.36,4.5],"reverse":true,"nice":false,"zero":false},"axis":{"orient":"top","labels":false,"title":null,"values":[4.36,4.38,4.40,4.42,4.44,4.46,4.48,4.50]}},"x2":{"field":"xhi"},
"y":{"field":"y","type":"quantitative","scale":{"domain":[4.28,4.726],"nice":false,"zero":false},"axis":{"orient":"right","labels":false,"title":null,"values":[4.3,4.4,4.5,4.6,4.7]}}}},
{"data":{"name":"obs"},"mark":{"type":"rule","color":"#ff0000","opacity":0.45,"strokeWidth":1.2},
"encoding":{"x":{"field":"x","type":"quantitative","scale":{"domain":[4.36,4.5],"reverse":true,"nice":false,"zero":false},"axis":null},
"y":{"field":"ylo","type":"quantitative","scale":{"domain":[4.28,4.726],"nice":false,"zero":false},"axis":null},"y2":{"field":"yhi"}}},
{"data":{"name":"obs"},"mark":{"type":"point","filled":true,"shape":"M0,-1L0.2245,-0.309L0.951,-0.309L0.363,0.118L0.588,0.809L0,0.382L-0.588,0.809L-0.363,0.118L-0.951,-0.309L-0.2245,-0.309Z","size":90,"color":"#ff0000","stroke":"#800000","strokeWidth":0.5,"opacity":1},
"encoding":{"x":{"field":"x","type":"quantitative","scale":{"domain":[4.36,4.5],"reverse":true,"nice":false,"zero":false},"axis":null},
"y":{"field":"y","type":"quantitative","scale":{"domain":[4.28,4.726],"nice":false,"zero":false},"axis":null}}}
],
"resolve":{"axis":{"x":"independent","y":"independent"}}
}
